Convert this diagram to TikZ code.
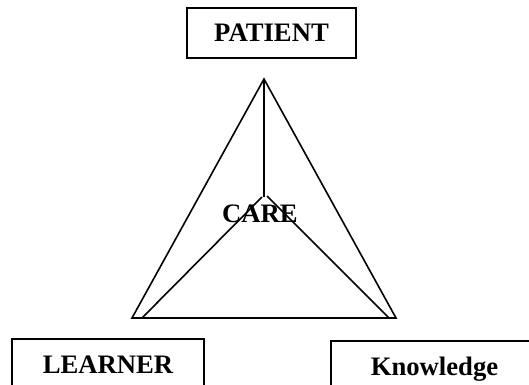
\documentclass[tikz,border=0pt]{standalone}
\usepackage{fontspec}
\setmainfont{Liberation Serif}
\usepackage{tikz}

\begin{document}
\begin{tikzpicture}[x=0.75pt, y=-0.75pt,
        word/.style={font=\bfseries\fontsize{20}{24}\selectfont, inner sep=0pt, text height=13.2pt, text depth=0pt},
        wordbox/.style={word, draw, line width=1.5pt},
        edge/.style={line width=1.2pt}]
            \useasboundingbox (0,0) rectangle (529,385);
            \node[wordbox, minimum width=169*0.75pt, minimum height=50*0.75pt] (patient) at (271.5,33) {PATIENT};
            \node[wordbox, minimum width=192*0.75pt, minimum height=51*0.75pt] (learner) at (108,364.5) {LEARNER};
            \node[wordbox, minimum width=207*0.75pt, minimum height=51*0.75pt] (knowledge) at (434.5,366.5) {Knowledge};
            \node[word] (care) at (260,214) {CARE};
            \coordinate (apex) at (264,79); \coordinate (lft) at (132,318); \coordinate (rgt) at (396,318);
            \coordinate (mid) at (264,197); \coordinate (midL) at (262,197); \coordinate (midR) at (267,196);
            \coordinate (lftin) at (142,318); \coordinate (rgtin) at (389,318);
            \draw[edge, line join=miter] (apex) -- (lft) -- (rgt) -- cycle;
            \draw[edge] (apex) -- (mid);
            \draw[edge] (midL) -- (lftin);
            \draw[edge] (midR) -- (rgtin);
        \end{tikzpicture}
\end{document}
